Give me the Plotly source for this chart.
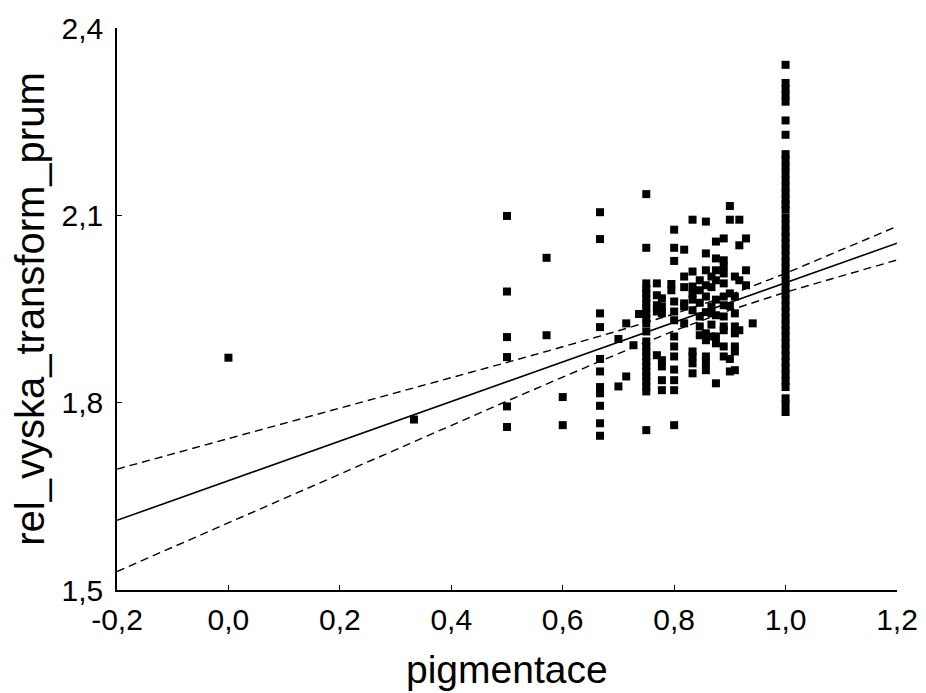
import plotly.graph_objects as go

# ---- data ----
# scatter columns: (x value, list of y values)
y_000 = [1.872]
y_033 = [1.773]
y_050 = [2.099, 1.978, 1.905, 1.873, 1.794, 1.761]
y_057 = [2.032, 1.908]
y_060 = [1.809, 1.764]
y_067 = [2.105, 2.062, 1.943, 1.921, 1.870, 1.850, 1.825, 1.815, 1.795, 1.767, 1.747]
y_070 = [1.902, 1.826]
y_071 = [1.927, 1.842]
y_073 = [1.892]
y_074 = [1.942]
y_075 = [2.134, 2.048, 1.991, 1.982, 1.975, 1.967, 1.959, 1.951, 1.943, 1.935, 1.927,
         1.914, 1.898, 1.890, 1.882, 1.874, 1.866, 1.858, 1.850, 1.842, 1.834, 1.826,
         1.818, 1.756]
y_077 = [1.991, 1.972, 1.956, 1.946, 1.876]
y_078 = [1.967, 1.954, 1.943, 1.868, 1.858, 1.836, 1.820]
y_079 = [1.990, 1.980]
y_080 = [2.077, 2.048, 2.027, 1.962, 1.946, 1.932, 1.906, 1.890, 1.874, 1.853, 1.836,
         1.820, 1.764]
y_082 = [2.045, 2.002, 1.959, 1.954, 1.927, 1.985]
y_083 = [2.093, 2.010, 1.986, 1.975, 1.948, 1.882, 1.874, 1.863, 1.847, 1.965]
y_085 = [1.996, 1.938, 1.922, 1.908, 1.980, 1.960]
y_086 = [2.090, 2.039, 2.012, 1.988, 1.970, 1.911, 1.900, 1.874, 1.863, 1.852, 1.945]
y_087 = [2.002, 1.954, 1.943, 1.906, 1.985, 1.925]
y_088 = [2.058, 2.031, 2.012, 1.996, 1.906, 1.895, 1.831, 1.965, 1.940]
y_089 = [2.063, 2.028, 2.018, 2.007, 1.991, 1.970, 1.956, 1.938, 1.922, 1.916, 1.890, 1.874]
y_090 = [2.115, 2.093, 1.975, 1.870, 1.850, 1.955]
y_091 = [2.002, 1.970, 1.943, 1.922, 1.911, 1.890, 1.882, 1.852]
y_092 = [2.093, 2.052, 1.996, 1.916]
y_093 = [2.063, 2.012, 1.988]
y_094 = [1.927]
y_100 = [2.341, 2.312, 2.302, 2.292, 2.282, 2.252, 2.229, 2.198, 2.189, 2.178, 2.167,
         2.156, 2.145, 2.135, 2.125, 2.117, 2.109, 2.096, 2.085, 2.074, 2.065, 2.055,
         2.045, 2.035, 2.025, 2.015, 2.005, 1.995, 1.985, 1.975, 1.965, 1.955, 1.945,
         1.935, 1.925, 1.915, 1.905, 1.895, 1.885, 1.875, 1.865, 1.855, 1.845, 1.835,
         1.825, 1.807, 1.797, 1.785]

columns = [
    (0.0, y_000), (0.333, y_033), (0.5, y_050), (0.571, y_057), (0.6, y_060),
    (0.667, y_067), (0.70, y_070), (0.714, y_071), (0.727, y_073), (0.737, y_074),
    (0.75, y_075), (0.769, y_077), (0.778, y_078), (0.795, y_079), (0.80, y_080),
    (0.818, y_082), (0.833, y_083), (0.846, y_085), (0.857, y_086), (0.867, y_087),
    (0.875, y_088), (0.889, y_089), (0.90, y_090), (0.909, y_091), (0.917, y_092),
    (0.929, y_093), (0.941, y_094), (1.0, y_100),
]

# regression line and 95% confidence band
band_x = [-0.2, -0.1, 0.0, 0.1, 0.2, 0.3, 0.4, 0.5, 0.6, 0.7, 0.8, 0.9, 1.0, 1.1, 1.2]
fit_y = [1.6116, 1.6433, 1.6750, 1.7067, 1.7384, 1.7701, 1.8018, 1.8335, 1.8652,
         1.8969, 1.9286, 1.9603, 1.9920, 2.0237, 2.0554]
upper_y = [1.6936, 1.7179, 1.7422, 1.7665, 1.7909, 1.8153, 1.8398, 1.8645, 1.8895,
           1.9151, 1.9421, 1.9725, 2.0071, 2.0442, 2.0823]
lower_y = [1.5296, 1.5687, 1.6078, 1.6469, 1.6859, 1.7249, 1.7638, 1.8025, 1.8409,
           1.8787, 1.9151, 1.9481, 1.9769, 2.0032, 2.0285]

x_ticks = [-0.2, 0.0, 0.2, 0.4, 0.6, 0.8, 1.0, 1.2]
x_ticktext = ["-0,2", "0,0", "0,2", "0,4", "0,6", "0,8", "1,0", "1,2"]
y_ticks = [1.5, 1.8, 2.1, 2.4]
y_ticktext = ["1,5", "1,8", "2,1", "2,4"]
x_title = "pigmentace"
y_title = "rel_vyska_transform_prum"

# ---- build figure ----
pts_x, pts_y = [], []
for xv, ys in columns:
    for yv in ys:
        pts_x.append(xv)
        pts_y.append(yv)

fig = go.Figure()
fig.add_trace(go.Scatter(x=pts_x, y=pts_y, mode="markers",
                         marker=dict(symbol="square", size=8, color="black",
                                     line=dict(width=0)),
                         showlegend=False, hoverinfo="skip"))
fig.add_trace(go.Scatter(x=band_x, y=fit_y, mode="lines",
                         line=dict(color="black", width=1.6),
                         showlegend=False, hoverinfo="skip"))
for yy in (upper_y, lower_y):
    fig.add_trace(go.Scatter(x=band_x, y=yy, mode="lines",
                             line=dict(color="black", width=1.4, dash="8px,5px"),
                             showlegend=False, hoverinfo="skip"))

font_family = "Liberation Sans, Arial, sans-serif"
fig.update_layout(
    width=918, height=685,
    margin=dict(l=109, r=29, t=20, b=103, autoexpand=False),
    paper_bgcolor="white", plot_bgcolor="white",
    font=dict(family=font_family, color="black"),
    showlegend=False,
    annotations=[dict(text=x_title, xref="paper", yref="paper", x=0.5, y=-0.141,
                      xanchor="center", yanchor="middle", showarrow=False,
                      font=dict(size=39, family=font_family, color="black"))],
)
fig.update_xaxes(
    range=[-0.2, 1.2], tickvals=x_ticks, ticktext=x_ticktext,
    showgrid=False, zeroline=False, showline=True, linecolor="black", linewidth=1.6,
    ticks="inside", ticklen=5, tickwidth=1.4, tickcolor="black",
    tickfont=dict(size=30, family=font_family), ticklabelstandoff=2,
    automargin=False,
)
fig.update_yaxes(
    range=[1.5, 2.4], tickvals=y_ticks, ticktext=y_ticktext,
    showgrid=False, zeroline=False, showline=True, linecolor="black", linewidth=1.6,
    ticks="inside", ticklen=5, tickwidth=1.4, tickcolor="black",
    tickfont=dict(size=30, family=font_family), ticklabelstandoff=6,
    title=dict(text=y_title, font=dict(size=40, family=font_family), standoff=6),
    automargin=False,
)

fig.write_html("out.html")
